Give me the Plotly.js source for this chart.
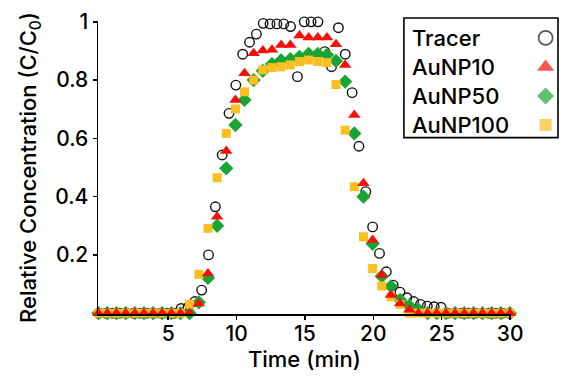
<!DOCTYPE html>
<html>
<head>
<meta charset="utf-8">
<script src="https://cdn.plot.ly/plotly-3.0.1.min.js"></script>
<style>html,body{margin:0;padding:0;background:#fff;}#chart{width:571px;height:385px;}</style>
</head>
<body>
<div id="chart"></div>
<script>
// Sampling times (min)
var tracerTime = [-0.05,0.45,0.95,1.45,1.95,2.45,2.95,3.45,3.95,4.45,4.95,5.45,5.95,6.45,6.95,7.45,7.95,8.45,8.95,9.45,9.95,10.45,10.95,11.45,11.95,12.45,12.95,13.45,13.95,14.45,14.95,15.45,15.95,16.45,16.95,17.45,17.95,18.45,18.95,19.45,19.95,20.45,20.95,21.45,21.95,22.45,22.95,23.45,23.95,24.45,24.95,25.45,25.95,26.45,26.95,27.45,27.95,28.45,28.95,29.45,29.95];
var npTime = [-0.1,0.55,1.22,1.89,2.56,3.23,3.89,4.56,5.23,5.9,6.57,7.24,7.91,8.58,9.25,9.92,10.58,11.25,11.92,12.59,13.26,13.93,14.6,15.27,15.94,16.61,17.27,17.94,18.61,19.28,19.95,20.62,21.29,21.96,22.63,23.3,23.97,24.64,25.31,25.98,26.65,27.32,27.98,28.65,29.32,29.99];

// Relative concentration C/C0
var tracer = [0,0,0,0,0,0,0,0,0,0,0,0,0.016,0.02,0.04,0.079,0.20,0.365,0.543,0.686,0.783,0.889,0.93,0.958,0.995,0.993,0.993,0.993,0.984,0.812,1.0,1.0,1.0,0.898,0.846,0.98,0.889,0.757,0.573,0.417,0.296,0.205,0.142,0.096,0.072,0.053,0.04,0.03,0.024,0.022,0.02,0,0,0,0,0,0,0,0,0,0];
var aunp10 = [0,0,0,0,0,0,0,0,0,0,0,0.033,0.136,0.331,0.557,0.732,0.824,0.892,0.902,0.904,0.921,0.921,0.953,0.946,0.946,0.946,0.923,0.852,0.68,0.446,0.251,0.131,0.062,0.033,0.012,0,0,0,0,0,0,0,0,0,0,0];
var aunp50 = [0,0,0,0,0,0,0,0,0,0,0,0.037,0.121,0.30,0.497,0.646,0.732,0.80,0.832,0.855,0.868,0.872,0.88,0.89,0.89,0.887,0.866,0.795,0.617,0.40,0.238,0.127,0.092,0.045,0.025,0.012,0,0,0,0,0,0,0,0,0,0];
var aunp100 = [0,0,0,0,0,0,0,0,0,0,0.030,0.133,0.291,0.465,0.617,0.701,0.760,0.80,0.835,0.843,0.846,0.852,0.864,0.869,0.864,0.860,0.785,0.628,0.434,0.262,0.153,0.093,0.056,0.03,0,0,0,0,0,0,0,0,0,0,0,0];

var seriesNames = ['Tracer','AuNP10','AuNP50','AuNP100'];
var xTicks = [5,10,15,20,25,30];
var yTicks = [0.2,0.4,0.6,0.8,1];
var yTickText = ['0.2','0.4','0.6','0.8','1'];

var RED = '#f5100c', GREEN = '#19a533', YELLOW = '#fbbf22';
var FONT = 'Inter, Liberation Sans, Arial, sans-serif';

var traces = [
  {x: tracerTime, y: tracer, type:'scatter', mode:'markers', name:'Tracer', showlegend:false, cliponaxis:false,
   marker:{symbol:'circle-open', size:9.5, color:'#111', line:{width:1.4, color:'#111'}}},
  {x: npTime, y: aunp50, type:'scatter', mode:'markers', name:'AuNP50', showlegend:false, cliponaxis:false,
   marker:{symbol:'diamond', size:11, color:GREEN, line:{width:0}}},
  {x: npTime, y: aunp100, type:'scatter', mode:'markers', name:'AuNP100', showlegend:false, cliponaxis:false,
   marker:{symbol:'square', size:9, color:YELLOW, line:{width:0}}},
  {x: npTime, y: aunp10, type:'scatter', mode:'markers', name:'AuNP10', showlegend:false, cliponaxis:false,
   marker:{symbol:'triangle-up', size:11, color:RED, line:{width:0}}},
  // legend key symbols
  {x:[0.62,0.62,0.62,0.62], y:[0,1,2,3], xaxis:'x2', yaxis:'y2', type:'scatter', mode:'markers', showlegend:false,
   cliponaxis:false, hoverinfo:'skip',
   marker:{symbol:['circle-open','triangle-up','diamond','square'], size:[14,15,13,12],
     color:['#111',RED,GREEN,YELLOW], line:{width:[1.7,0,0,0], color:'#111'}}}
];

var annotations = seriesNames.map(function(n,i){
  return {text:n, xref:'paper', yref:'y2', x:0.6655, y:i, xanchor:'left', yanchor:'middle', showarrow:false,
          font:{family:FONT, size:22, weight:500, color:'#000'}};
});

var layout = {
  width:571, height:385,
  margin:{l:98.2, r:4, t:21.1, b:71.1},
  paper_bgcolor:'#fff', plot_bgcolor:'#fff',
  showlegend:false,
  font:{family:FONT, color:'#000', weight:500},
  xaxis:{domain:[0,0.8801], range:[-0.13,30.05], tickmode:'array', tickvals:xTicks,
    ticks:'outside', ticklen:4, tickwidth:1.5, tickcolor:'#000', showline:true, linewidth:1.5, linecolor:'#000',
    showgrid:false, zeroline:false, tickfont:{size:21, family:FONT, weight:500}, anchor:'y', ticklabelstandoff:-4,
    title:{text:'Time (min)', font:{size:22, family:FONT, weight:500}, standoff:3}},
  yaxis:{range:[-0.003,1.003], tickmode:'array', tickvals:yTicks, ticktext:yTickText,
    ticks:'outside', ticklen:4, tickwidth:1.5, tickcolor:'#000', showline:true, linewidth:1.5, linecolor:'#000',
    showgrid:false, zeroline:false, tickfont:{size:21, family:FONT, weight:500}, anchor:'x',
    title:{text:'Relative Concentration (C/C<sub>0</sub>)', font:{size:22, family:FONT, weight:500}, standoff:12}},
  xaxis2:{domain:[0.8801,1], range:[0,1], visible:false, anchor:'y2', fixedrange:true},
  yaxis2:{domain:[0,1], range:[9.514,-0.583], visible:false, anchor:'x2', fixedrange:true},
  shapes:[{type:'rect', xref:'paper', yref:'paper', x0:0.6523, x1:0.9808, y0:0.602, y1:1.01,
    line:{color:'#000', width:1.6}, fillcolor:'rgba(0,0,0,0)'}],
  annotations: annotations
};

Plotly.newPlot('chart', traces, layout, {displayModeBar:false, staticPlot:true});
</script>
</body>
</html>
